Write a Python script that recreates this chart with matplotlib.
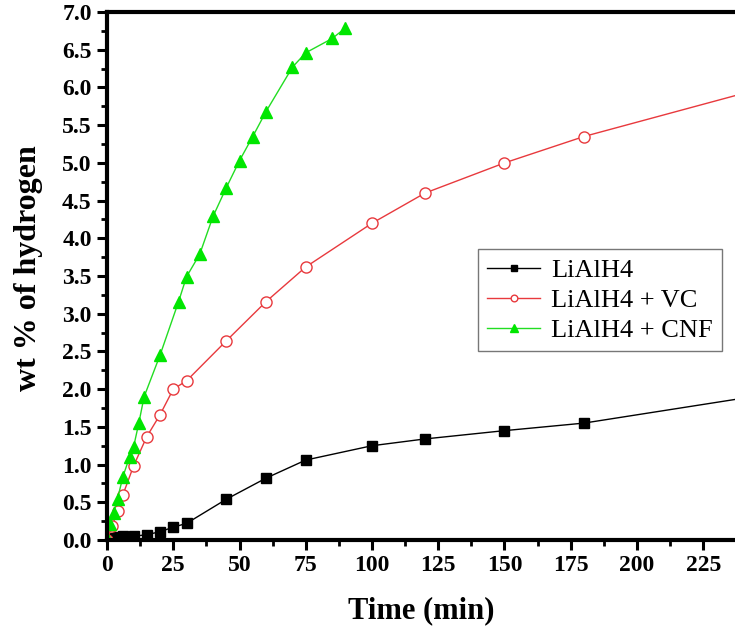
import matplotlib.pyplot as plt
from matplotlib.ticker import MultipleLocator, FormatStrFormatter

plt.rcParams['font.family'] = ['Liberation Serif', 'DejaVu Serif']

# Time (min) and wt % of hydrogen released for each sample
t_pure = [0, 2, 4, 6, 10, 15, 20, 25, 30, 45, 60, 75, 100, 120, 150, 180, 240]
h_pure = [0.0, 0.03, 0.04, 0.05, 0.05, 0.07, 0.11, 0.17, 0.22, 0.54, 0.82, 1.06,
          1.25, 1.34, 1.45, 1.55, 1.88]

t_vc = [0, 2, 4, 6, 10, 15, 20, 25, 30, 45, 60, 75, 100, 120, 150, 180, 240]
h_vc = [0.0, 0.19, 0.38, 0.6, 0.98, 1.37, 1.66, 2.0, 2.11, 2.64, 3.16, 3.62,
        4.2, 4.6, 5.0, 5.35, 5.92]

t_cnf = [0, 1, 2.5, 4, 6, 8.5, 10, 12, 14, 20, 27, 30, 35, 40, 45, 50, 55, 60,
         70, 75, 85, 90]
h_cnf = [0.03, 0.21, 0.36, 0.55, 0.84, 1.1, 1.23, 1.55, 1.9, 2.45, 3.16, 3.49,
         3.79, 4.29, 4.67, 5.03, 5.35, 5.68, 6.27, 6.46, 6.65, 6.79]

fig = plt.figure(figsize=(7.35, 6.38), dpi=100)
ax = fig.add_axes([0.1456, 0.1536, 0.8544, 0.8275])

ax.plot(t_pure, h_pure, color='black', lw=1, marker='s', ms=7,
        label='LiAlH4')
ax.plot(t_vc, h_vc, color='#e8393d', lw=1, marker='o', ms=8,
        mfc='white', mec='#e8393d', mew=1, label='LiAlH4 + VC')
ax.plot(t_cnf, h_cnf, color='#22dd22', lw=1, marker='^', ms=9,
        mfc='#00e600', mec='#00e600', label='LiAlH4 + CNF')

ax.set_xlim(0, 237)
ax.set_ylim(0, 7.0)
ax.xaxis.set_major_locator(MultipleLocator(25))
ax.xaxis.set_minor_locator(MultipleLocator(12.5))
ax.yaxis.set_major_locator(MultipleLocator(0.5))
ax.yaxis.set_minor_locator(MultipleLocator(0.25))
ax.yaxis.set_major_formatter(FormatStrFormatter('%.1f'))

ax.tick_params(which='major', direction='out', length=7, width=2.2,
               labelsize=17, pad=4)
ax.tick_params(which='minor', direction='out', length=4, width=2)
for lab in ax.get_xticklabels() + ax.get_yticklabels():
    lab.set_fontweight('bold')

for side in ('left', 'bottom', 'top'):
    ax.spines[side].set_linewidth(3)
ax.spines['right'].set_visible(False)

ax.set_xlabel('Time (min)', fontsize=22, fontweight='bold', labelpad=14)
ax.set_ylabel('wt % of hydrogen', fontsize=23, fontweight='bold')
ax.yaxis.set_label_coords(-0.102, 0.515)

leg = ax.legend(loc='upper left', bbox_to_anchor=(0.570, 0.576), fontsize=19,
                frameon=True, fancybox=False, edgecolor='#555555',
                handlelength=2.0, handletextpad=0.4, markerscale=0.6,
                borderpad=0.35, labelspacing=0.25)
leg.get_frame().set_linewidth(1)

fig.savefig('out.png', dpi=100)
